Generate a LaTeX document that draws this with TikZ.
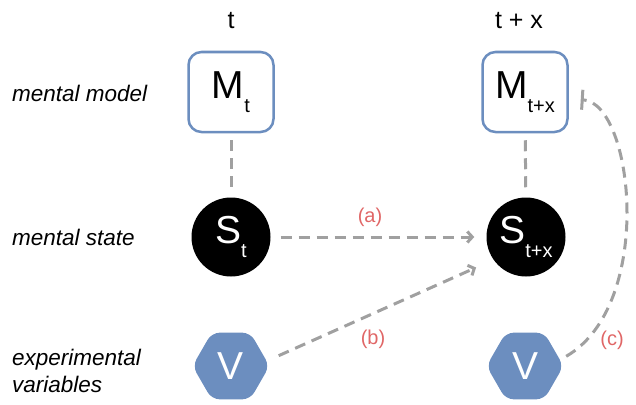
\documentclass[tikz,border=0pt]{standalone}
\usepackage{fontspec}
\setmainfont{Liberation Sans}
\usetikzlibrary{arrows.meta,shapes.geometric}
\definecolor{boxblue}{HTML}{6C8EBF}
\definecolor{linegray}{HTML}{A0A0A0}
\definecolor{labred}{HTML}{E06666}
\newcommand\lowsub[1]{{\fontsize{20}{20}\selectfont\raisebox{-14pt}{#1}}}
\begin{document}
\begin{tikzpicture}[x=1pt,y=-1pt,
  mbox/.style={draw=boxblue, line width=2.5pt, rounded corners=13pt, minimum width=85pt, minimum height=80pt, inner sep=0pt, font=\fontsize{39}{39}\selectfont},
  sdot/.style={circle, fill=black, minimum size=79pt, inner sep=0pt, text=white, font=\fontsize{39}{39}\selectfont},
  vhex/.style={regular polygon, regular polygon sides=6, fill=boxblue, minimum size=77pt, inner sep=0pt, rounded corners=8pt, text=white, font=\fontsize{39}{39}\selectfont},
  conn/.style={draw=linegray, line width=3pt, dash pattern=on 11pt off 7pt},
  arr/.style={-{Straight Barb[length=5pt,width=11pt]}},
  bararr/.style={-{Bar[width=20pt,line width=3pt]}},
  toplab/.style={font=\fontsize{25}{25}\selectfont, inner sep=0pt},
  sidelab/.style={font=\fontsize{22.5}{27}\selectfont\itshape, anchor=west, align=left, inner sep=0pt},
  elab/.style={font=\fontsize{20}{20}\selectfont, text=labred, inner sep=0pt}]
\useasboundingbox (0,0) rectangle (636,404);

\node[toplab] (tl) at (231,21) {t};
\node[toplab] (tr) at (519,21) {t + x};

\node[sidelab] (l1) at (12,93) {mental model};
\node[sidelab] (l2) at (12,237) {mental state};
\node[sidelab] (l3) at (12,371) {experimental\\variables};

\node[mbox] (m1) at (231,92) {M\lowsub{t}};
\node[mbox] (m2) at (525,92) {M\lowsub{t+x}};
\node[sdot] (s1) at (231,237) {S\lowsub{t}};
\node[sdot] (s2) at (526,237) {S\lowsub{t+x}};
\node[vhex] (v1) at (231,366) {V};
\node[vhex] (v2) at (525,366) {V};

\draw[conn, shorten <=7pt, shorten >=7pt] (m1) -- (s1);
\draw[conn, shorten <=7pt, shorten >=7pt] (m2) -- (s2);
\draw[conn, arr, shorten <=10pt, shorten >=12pt] (s1) -- (s2);
\draw[conn, arr, shorten <=13pt, shorten >=19pt] (v1.8) -- (s2.215);
\draw[conn, bararr, shorten <=7pt, shorten >=12pt] (v2.10) .. controls +(95,-55) and +(65,4) .. (m2.-9);

\node[elab] (la) at (370,217) {(a)};
\node[elab] (lb) at (373,339) {(b)};
\node[elab] (lc) at (612,340) {(c)};
\end{tikzpicture}
\end{document}
